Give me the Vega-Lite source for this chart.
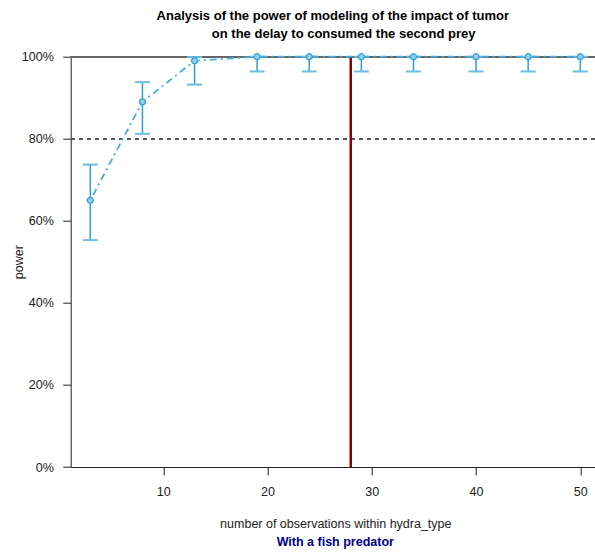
{
  "$schema": "https://vega.github.io/schema/vega-lite/v6.json",
  "width": 524.3,
  "height": 410.3,
  "autosize": {"type": "none"},
  "padding": {"left": 70.7, "top": 56.7, "right": 0, "bottom": 87},
  "background": "white",
  "title": {
    "text": ["Analysis of the power of modeling of the impact of tumor", "\u200b\u00a0\u00a0\u00a0\u00a0\u00a0\u00a0on the delay to consumed the second prey"],
    "font": "Liberation Sans",
    "fontSize": 13,
    "fontWeight": "bold",
    "color": "#000000",
    "anchor": "middle",
    "offset": 10,
    "lineHeight": 18
  },
  "config": {
    "view": {"stroke": null},
    "font": "Liberation Sans",
    "axisX": {
      "grid": false,
      "domainColor": "#222222",
      "tickColor": "#222222",
      "tickSize": 8,
      "labelFont": "Liberation Sans",
      "labelFontSize": 12.5,
      "labelColor": "#222222",
      "labelBaseline": "middle",
      "labelPadding": 16.5,
      "labelFlush": false,
      "titleFont": "Liberation Sans",
      "titleFontSize": 12.5,
      "titleFontWeight": "normal",
      "titleColor": "#222222",
      "titleBaseline": "middle",
      "titleY": 56,
      "titleX": 264.6
    },
    "axisY": {
      "grid": false,
      "domainColor": "#222222",
      "tickColor": "#222222",
      "tickSize": 8,
      "labelFont": "Liberation Sans",
      "labelFontSize": 12.5,
      "labelColor": "#222222",
      "labelPadding": 9.4,
      "labelFlush": false,
      "titleFont": "Liberation Sans",
      "titleFontSize": 12.5,
      "titleFontWeight": "normal",
      "titleColor": "#222222",
      "titleAngle": -90,
      "titleAlign": "center",
      "titleBaseline": "middle",
      "titleX": -52,
      "titleY": 205
    }
  },
  "datasets": {
    "curve": [
      {"n": 3, "power": 0.65, "lower": 0.553, "upper": 0.737},
      {"n": 8, "power": 0.89, "lower": 0.812, "upper": 0.938},
      {"n": 13, "power": 0.99, "lower": 0.932, "upper": 0.999},
      {"n": 19, "power": 1, "lower": 0.964, "upper": 1},
      {"n": 24, "power": 1, "lower": 0.964, "upper": 1},
      {"n": 29, "power": 1, "lower": 0.964, "upper": 1},
      {"n": 34, "power": 1, "lower": 0.964, "upper": 1},
      {"n": 40, "power": 1, "lower": 0.964, "upper": 1},
      {"n": 45, "power": 1, "lower": 0.964, "upper": 1},
      {"n": 50, "power": 1, "lower": 0.964, "upper": 1}
    ]
  },
  "data": {"name": "curve"},
  "layer": [
    {
      "mark": {"type": "rule", "color": "#555555", "strokeWidth": 1, "strokeDash": [4, 4]},
      "encoding": {
        "y": {"datum": 0.8, "type": "quantitative", "scale": {"domain": [0, 1], "nice": false, "zero": false}, "title": "power",
              "axis": {"values": [0, 0.2, 0.4, 0.6, 0.8, 1], "format": ".0%"}}
      }
    },
    {
      "mark": {"type": "rule", "color": "#666666", "strokeWidth": 1.5},
      "encoding": {
        "y": {"datum": 1, "type": "quantitative", "title": "power", "axis": {"values": [0, 0.2, 0.4, 0.6, 0.8, 1], "format": ".0%"}}
      }
    },
    {
      "mark": {"type": "rule", "color": "#8B0000", "strokeWidth": 2},
      "encoding": {
        "x": {"datum": 28, "type": "quantitative", "scale": {"domain": [1.12, 51.41], "nice": false, "zero": false}, "title": "number of observations within hydra_type",
              "axis": {"values": [10, 20, 30, 40, 50]}}
      }
    },
    {
      "mark": {"type": "rule", "color": "#2c9fd3", "strokeWidth": 1.5},
      "encoding": {
        "x": {"field": "n", "type": "quantitative", "title": "number of observations within hydra_type", "axis": {"values": [10, 20, 30, 40, 50]}},
        "y": {"field": "lower", "type": "quantitative", "title": "power", "axis": {"values": [0, 0.2, 0.4, 0.6, 0.8, 1], "format": ".0%"}},
        "y2": {"field": "upper"}
      }
    },
    {
      "mark": {"type": "tick", "orient": "horizontal", "color": "#6dbde2", "size": 15, "thickness": 2, "opacity": 1},
      "encoding": {
        "x": {"field": "n", "type": "quantitative", "title": "number of observations within hydra_type", "axis": {"values": [10, 20, 30, 40, 50]}},
        "y": {"field": "lower", "type": "quantitative", "title": "power", "axis": {"values": [0, 0.2, 0.4, 0.6, 0.8, 1], "format": ".0%"}}
      }
    },
    {
      "mark": {"type": "tick", "orient": "horizontal", "color": "#6dbde2", "size": 15, "thickness": 2, "opacity": 1},
      "encoding": {
        "x": {"field": "n", "type": "quantitative", "title": "number of observations within hydra_type", "axis": {"values": [10, 20, 30, 40, 50]}},
        "y": {"field": "upper", "type": "quantitative", "title": "power", "axis": {"values": [0, 0.2, 0.4, 0.6, 0.8, 1], "format": ".0%"}}
      }
    },
    {
      "mark": {"type": "line", "color": "#45ade0", "strokeWidth": 1.8, "strokeDash": [2, 4, 7, 4]},
      "encoding": {
        "x": {"field": "n", "type": "quantitative", "title": "number of observations within hydra_type", "axis": {"values": [10, 20, 30, 40, 50]}},
        "y": {"field": "power", "type": "quantitative", "title": "power", "axis": {"values": [0, 0.2, 0.4, 0.6, 0.8, 1], "format": ".0%"}}
      }
    },
    {
      "mark": {"type": "point", "filled": false, "fill": "#8fd0ec", "fillOpacity": 1, "stroke": "#2c9fd3", "strokeWidth": 1.2, "size": 36, "opacity": 1},
      "encoding": {
        "x": {"field": "n", "type": "quantitative", "title": "number of observations within hydra_type", "axis": {"values": [10, 20, 30, 40, 50]}},
        "y": {"field": "power", "type": "quantitative", "title": "power", "axis": {"values": [0, 0.2, 0.4, 0.6, 0.8, 1], "format": ".0%"}}
      }
    },
    {
      "data": {"values": [{"label": "With a fish predator"}]},
      "mark": {"type": "text", "font": "Liberation Sans", "fontSize": 12.5, "fontWeight": "bold", "color": "#00008B", "align": "center", "baseline": "middle"},
      "encoding": {
        "x": {"datum": 26.5, "type": "quantitative", "title": "number of observations within hydra_type", "axis": {"values": [10, 20, 30, 40, 50]}},
        "y": {"datum": -0.184, "type": "quantitative", "title": "power", "axis": {"values": [0, 0.2, 0.4, 0.6, 0.8, 1], "format": ".0%"}},
        "text": {"field": "label"}
      }
    }
  ]
}
